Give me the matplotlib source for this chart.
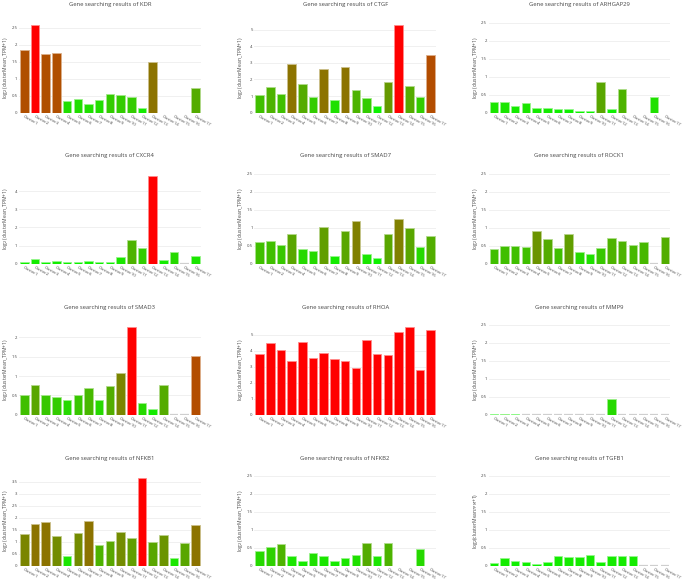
import numpy as np
import matplotlib
matplotlib.use("Agg")
import matplotlib.pyplot as plt
from matplotlib.ticker import MultipleLocator, FuncFormatter

plt.rcParams['font.family'] = ['Open Sans', 'DejaVu Sans']

nan = float('nan')
clusters = [f"Cluster{i}" for i in range(1, 18)]

genes = ["KDR", "CTGF", "ARHGAP29", "CXCR4", "SMAD7", "ROCK1",
         "SMAD3", "RHOA", "MMP9", "NFKB1", "NFKB2", "TGFB1"]

# log2(clusterMean_TPM+1) per cluster (nan = not drawn)
kdr      = [1.83, 2.57, 1.74, 1.76, 0.34, 0.39, 0.27, 0.37, 0.54, 0.52, 0.46, 0.14, 1.49, nan, nan, nan, 0.72]
ctgf     = [1.09, 1.54, 1.15, 2.92, 1.70, 0.93, 2.63, 0.75, 2.77, 1.38, 0.89, 0.40, 1.86, 5.26, 1.62, 0.93, 3.48]
arhgap29 = [0.31, 0.31, 0.19, 0.28, 0.13, 0.14, 0.09, 0.10, 0.05, 0.05, 0.84, 0.11, 0.66, nan, nan, 0.44, nan]
cxcr4    = [0.11, 0.24, 0.07, 0.16, 0.11, 0.07, 0.13, 0.11, 0.11, 0.38, 1.30, 0.89, 4.81, 0.22, 0.63, 0.0, 0.42]
smad7    = [0.59, 0.62, 0.51, 0.82, 0.42, 0.35, 1.01, 0.21, 0.90, 1.18, 0.26, 0.15, 0.82, 1.23, 0.98, 0.47, 0.77]
rock1    = [0.42, 0.49, 0.50, 0.47, 0.92, 0.68, 0.44, 0.82, 0.33, 0.26, 0.44, 0.71, 0.62, 0.51, 0.60, 0.0, 0.74]
smad3    = [0.52, 0.76, 0.51, 0.45, 0.38, 0.52, 0.68, 0.38, 0.73, 1.07, 2.26, 0.29, 0.16, 0.76, 0.0, 0.0, 1.53]
rhoa     = [3.79, 4.49, 4.06, 3.38, 4.51, 3.55, 3.87, 3.50, 3.34, 2.91, 4.67, 3.81, 3.73, 5.14, 5.45, 2.79, 5.29]
mmp9     = [0.01, 0.02, 0.01, 0.0, 0.0, 0.0, 0.0, 0.0, 0.0, 0.0, 0.0, 0.45, 0.0, 0.0, 0.0, 0.0, 0.0]
nfkb1    = [1.34, 1.74, 1.82, 1.23, 0.41, 1.38, 1.85, 0.88, 1.01, 1.39, 1.16, 3.64, 0.97, 1.27, 0.32, 0.93, 1.70]
nfkb2    = [0.40, 0.51, 0.61, 0.26, 0.13, 0.34, 0.28, 0.13, 0.21, 0.31, 0.64, 0.28, 0.64, nan, nan, 0.46, nan]
tgfb1    = [0.07, 0.22, 0.12, 0.11, 0.06, 0.09, 0.27, 0.24, 0.24, 0.31, 0.11, 0.27, 0.28, 0.27, 0.0, 0.0, 0.0]

# heat level per bar (0 = green, 1 = red)
kdr_h      = [0.69, 1.0, 0.69, 0.69, 0.13, 0.13, 0.12, 0.13, 0.2, 0.2, 0.2, 0.08, 0.55, 0, 0, 0, 0.33]
ctgf_h     = [0.25, 0.3, 0.25, 0.55, 0.33, 0.2, 0.55, 0.12, 0.55, 0.3, 0.2, 0.05, 0.4, 1.0, 0.33, 0.2, 0.7]
arhgap29_h = [0.1, 0.1, 0.08, 0.1, 0.08, 0.08, 0.06, 0.06, 0.05, 0.05, 0.35, 0.06, 0.3, 0, 0, 0.12, 0]
cxcr4_h    = [0.06, 0.08, 0.05, 0.07, 0.06, 0.05, 0.06, 0.06, 0.06, 0.1, 0.3, 0.2, 1.0, 0.08, 0.15, 0, 0.1]
smad7_h    = [0.25, 0.25, 0.22, 0.35, 0.15, 0.15, 0.38, 0.08, 0.35, 0.5, 0.1, 0.05, 0.35, 0.5, 0.35, 0.15, 0.32]
rock1_h    = [0.25, 0.25, 0.25, 0.25, 0.42, 0.33, 0.25, 0.38, 0.15, 0.12, 0.22, 0.3, 0.3, 0.28, 0.28, 0, 0.32]
smad3_h    = [0.25, 0.35, 0.22, 0.2, 0.15, 0.22, 0.28, 0.15, 0.32, 0.48, 1.0, 0.15, 0.08, 0.33, 0, 0, 0.7]
rhoa_h     = [1.0] * 17
mmp9_h     = [0.05, 0.1, 0.05, 0, 0, 0, 0, 0, 0, 0, 0, 0.15, 0, 0, 0, 0, 0]
nfkb1_h    = [0.48, 0.55, 0.55, 0.45, 0.1, 0.45, 0.55, 0.3, 0.35, 0.45, 0.38, 1.0, 0.35, 0.42, 0.1, 0.35, 0.55]
nfkb2_h    = [0.15, 0.18, 0.3, 0.1, 0.08, 0.12, 0.1, 0.08, 0.1, 0.12, 0.33, 0.1, 0.3, 0, 0, 0.15, 0]
tgfb1_h    = [0.06, 0.08, 0.06, 0.06, 0.05, 0.05, 0.08, 0.08, 0.08, 0.08, 0.06, 0.08, 0.08, 0.08, 0, 0, 0]

values = [kdr, ctgf, arhgap29, cxcr4, smad7, rock1, smad3, rhoa, mmp9, nfkb1, nfkb2, tgfb1]
heats = [kdr_h, ctgf_h, arhgap29_h, cxcr4_h, smad7_h, rock1_h, smad3_h, rhoa_h, mmp9_h, nfkb1_h, nfkb2_h, tgfb1_h]
ylabels = ["log$_2$ (clusterMean_TPM+1)"] * 11 + ["log$_2$(clusterMean$_{TPM}$+1)"]

W, H = 684, 582
fig = plt.figure(figsize=(W / 100, H / 100), dpi=100)
fig.patch.set_facecolor("white")

col_left = [19, 254.3, 488.5]
row_zero = [112.7, 263.7, 414.7, 565.7]
aw, ah = 181.7, 90.0
txt = "#444444"

def heat_color(t):
    return (t, 1 - t, 0.0)

def lighten(c, f=0.5):
    return tuple(ci + (1 - ci) * f for ci in c)

for i, gene in enumerate(genes):
    r, c = divmod(i, 3)
    left = col_left[c]
    bottom = row_zero[r]
    ax = fig.add_axes([left / W, 1 - bottom / H, aw / W, ah / H])
    v = np.array(values[i], dtype=float)
    x = np.arange(len(clusters))
    cols = [heat_color(t) for t in heats[i]]
    edges = []
    lws = []
    for val, col in zip(v, cols):
        if val == 0:
            edges.append("#cfcfcf")
            lws.append(1.6)
        else:
            edges.append(lighten(col, 0.55))
            lws.append(0.6)
    ax.bar(x, v, width=0.8, color=cols, edgecolor=edges, linewidth=lws, zorder=3)

    vmax = np.nanmax(v)
    top = 2.5 if vmax < 2 else vmax * 1.03
    ax.set_ylim(0, top)
    ax.set_xlim(-0.5, len(clusters) - 0.5)
    step = 1 if top > 4 else 0.5
    ax.yaxis.set_major_locator(MultipleLocator(step))
    ax.yaxis.set_major_formatter(FuncFormatter(lambda y, p: f"{y:g}"))
    ax.grid(axis="y", color="#eeeeee", linewidth=0.6, zorder=0)
    for s in ax.spines.values():
        s.set_visible(False)
    ax.tick_params(axis="both", length=0, labelsize=3.1, labelcolor=txt, pad=1.2)
    ax.set_xticks(x)
    ax.set_xticklabels(clusters, rotation=-30, ha="left", va="top",
                       rotation_mode="anchor", fontsize=3.0, color=txt)
    ax.set_ylabel(ylabels[i], fontsize=3.6, color=txt)
    ax.yaxis.set_label_coords(-9.0 / aw, 0.5)
    ax.text(0.5, 1 + 17.7 / ah, f"Gene searching results of {gene}",
            transform=ax.transAxes, ha="center", va="center",
            fontsize=4.2, color=txt)

fig.savefig("out.png", dpi=100, facecolor="white")
